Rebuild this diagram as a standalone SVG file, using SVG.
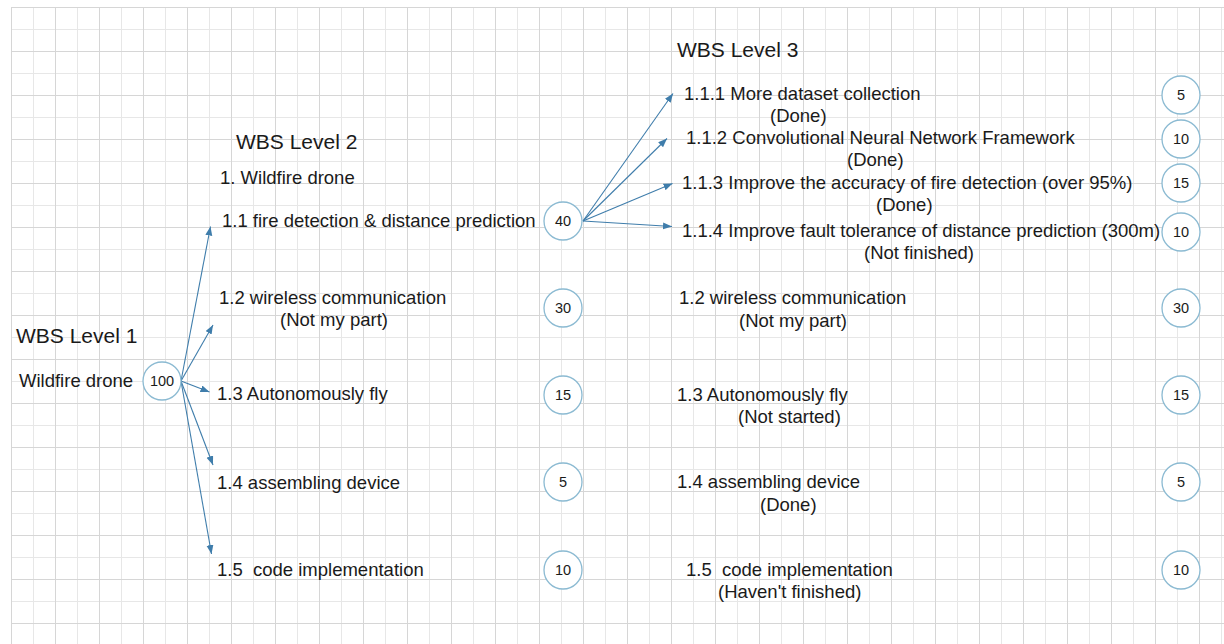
<svg xmlns="http://www.w3.org/2000/svg" width="1224" height="644" viewBox="0 0 1224 644">
<defs>
<style>
text{font-family:"Liberation Sans",Arial,sans-serif;fill:#1a1a1a;}
.t{font-size:18.5px;}
.h{font-size:21px;}
.n{font-size:14.5px;text-anchor:middle;}
.c{fill:#ffffff;stroke:#8bbad2;stroke-width:1.3;}
.cn line{stroke:#3f7dab;stroke-width:1.1;marker-end:url(#ah);}
</style>
<pattern id="grid" x="11" y="7" width="44" height="44" patternUnits="userSpaceOnUse">
<rect x="0" y="0" width="44" height="44" fill="#ffffff"/>
<rect x="22" y="0" width="1" height="44" fill="#e7e7e7"/>
<rect x="0" y="22" width="44" height="1" fill="#e7e7e7"/>
<rect x="0" y="0" width="1" height="44" fill="#d6d6d6"/>
<rect x="0" y="0" width="44" height="1" fill="#d6d6d6"/>
</pattern>
<marker id="ah" markerUnits="userSpaceOnUse" markerWidth="10" markerHeight="8" refX="9" refY="3.5" orient="auto">
<path d="M0,0 L9,3.5 L0,7 z" fill="#3f7dab"/>
</marker>
</defs>
<rect x="0" y="0" width="1224" height="644" fill="#ffffff"/>
<rect x="11" y="7" width="1213" height="637" fill="url(#grid)"/>

<g id="connectors" class="cn">
<line x1="181" y1="381" x2="210.5" y2="226.5"/>
<line x1="181" y1="381" x2="213" y2="325"/>
<line x1="181" y1="381" x2="209.5" y2="392"/>
<line x1="181" y1="381" x2="213" y2="465"/>
<line x1="181" y1="381" x2="211.5" y2="554"/>
<line x1="583" y1="221" x2="673" y2="93.5"/>
<line x1="583" y1="221" x2="667" y2="138.5"/>
<line x1="583" y1="221" x2="672.5" y2="183.5"/>
<line x1="583" y1="221" x2="672" y2="226.5"/>
</g>

<g id="level1">
<text class="h" x="16" y="343">WBS Level 1</text>
</g>
<g id="node-root">
<text class="t" x="19" y="387">Wildfire drone</text>
<circle class="c" cx="162" cy="381" r="19"/>
<text class="n" x="162" y="386">100</text>
</g>

<g id="level2">
<text class="h" x="236" y="149">WBS Level 2</text>
<text class="t" x="220" y="184">1. Wildfire drone</text>
</g>
<g id="node-1-1">
<text class="t" x="222" y="227">1.1 fire detection &amp; distance prediction</text>
<circle class="c" cx="563" cy="221" r="19"/>
<text class="n" x="563" y="226">40</text>
</g>
<g id="node-1-2">
<text class="t" x="219" y="304">1.2 wireless communication</text>
<text class="t" x="280" y="326">(Not my part)</text>
<circle class="c" cx="563" cy="308" r="19"/>
<text class="n" x="563" y="313">30</text>
</g>
<g id="node-1-3">
<text class="t" x="217" y="400">1.3 Autonomously fly</text>
<circle class="c" cx="563" cy="395" r="19"/>
<text class="n" x="563" y="400">15</text>
</g>
<g id="node-1-4">
<text class="t" x="217" y="489">1.4 assembling device</text>
<circle class="c" cx="563" cy="482" r="19"/>
<text class="n" x="563" y="487">5</text>
</g>
<g id="node-1-5">
<text class="t" x="217" y="576" xml:space="preserve">1.5  code implementation</text>
<circle class="c" cx="563" cy="570" r="19"/>
<text class="n" x="563" y="575">10</text>
</g>

<g id="level3">
<text class="h" x="677" y="57">WBS Level 3</text>
</g>
<g id="node-1-1-1">
<text class="t" x="684" y="100">1.1.1 More dataset collection</text>
<text class="t" x="770" y="122">(Done)</text>
<circle class="c" cx="1181" cy="95" r="19"/>
<text class="n" x="1181" y="100">5</text>
</g>
<g id="node-1-1-2">
<text class="t" x="686" y="144">1.1.2 Convolutional Neural Network Framework</text>
<text class="t" x="847" y="166">(Done)</text>
<circle class="c" cx="1181" cy="139" r="19"/>
<text class="n" x="1181" y="144">10</text>
</g>
<g id="node-1-1-3">
<text class="t" x="682" y="189">1.1.3 Improve the accuracy of fire detection (over 95%)</text>
<text class="t" x="876" y="211">(Done)</text>
<circle class="c" cx="1181" cy="183" r="19"/>
<text class="n" x="1181" y="188">15</text>
</g>
<g id="node-1-1-4">
<text class="t" x="682" y="237">1.1.4 Improve fault tolerance of distance prediction (300m)</text>
<text class="t" x="864" y="259">(Not finished)</text>
<circle class="c" cx="1181" cy="232" r="19"/>
<text class="n" x="1181" y="237">10</text>
</g>
<g id="node-3-1-2">
<text class="t" x="679" y="304">1.2 wireless communication</text>
<text class="t" x="739" y="327">(Not my part)</text>
<circle class="c" cx="1181" cy="308" r="19"/>
<text class="n" x="1181" y="313">30</text>
</g>
<g id="node-3-1-3">
<text class="t" x="677" y="401">1.3 Autonomously fly</text>
<text class="t" x="738" y="423">(Not started)</text>
<circle class="c" cx="1181" cy="395" r="19"/>
<text class="n" x="1181" y="400">15</text>
</g>
<g id="node-3-1-4">
<text class="t" x="677" y="488">1.4 assembling device</text>
<text class="t" x="760" y="511">(Done)</text>
<circle class="c" cx="1181" cy="482" r="19"/>
<text class="n" x="1181" y="487">5</text>
</g>
<g id="node-3-1-5">
<text class="t" x="686" y="576" xml:space="preserve">1.5  code implementation</text>
<text class="t" x="718" y="598">(Haven't finished)</text>
<circle class="c" cx="1181" cy="570" r="19"/>
<text class="n" x="1181" y="575">10</text>
</g>
</svg>
